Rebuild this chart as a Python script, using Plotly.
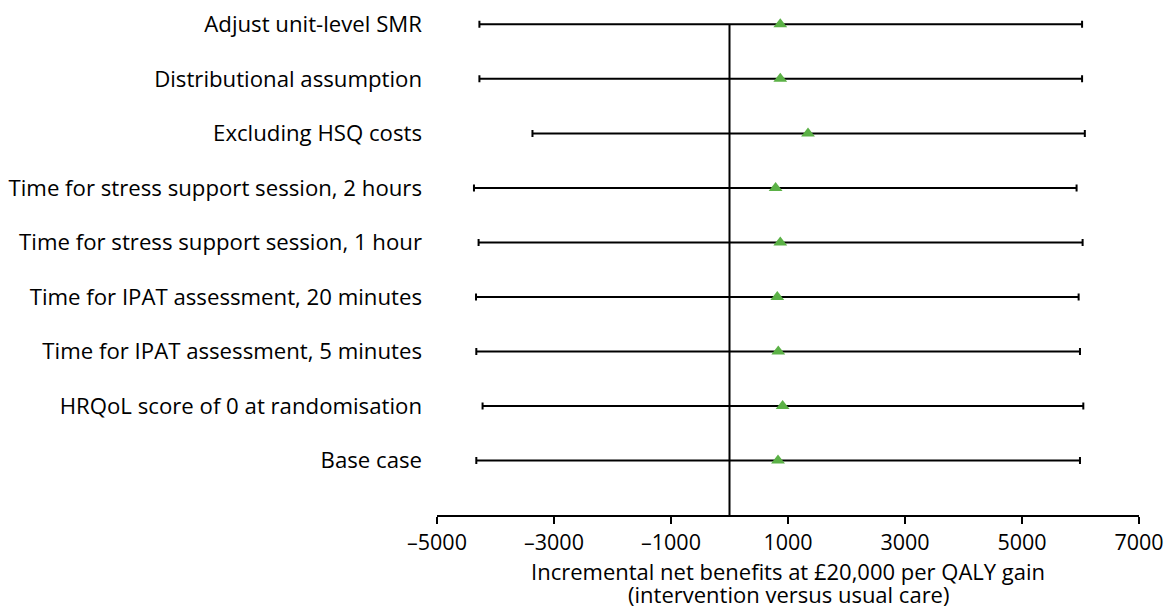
import plotly.graph_objects as go

# Data (top to bottom as shown)
scenarios = [
    "Adjust unit-level SMR",
    "Distributional assumption",
    "Excluding HSQ costs",
    "Time for stress support session, 2 hours",
    "Time for stress support session, 1 hour",
    "Time for IPAT assessment, 20 minutes",
    "Time for IPAT assessment, 5 minutes",
    "HRQoL score of 0 at randomisation",
    "Base case",
]
inb_mean = [868, 868, 1342, 788, 868, 817, 834, 908, 829]
inb_low = [-4275, -4275, -3368, -4368, -4289, -4333, -4328, -4221, -4328]
inb_high = [6027, 6027, 6074, 5933, 6036, 5968, 5991, 6048, 5991]

x_tickvals = [-5000, -3000, -1000, 1000, 3000, 5000, 7000]
x_ticktext = ["–5000", "–3000", "–1000", "1000", "3000", "5000", "7000"]

x_title_lines = ["Incremental net benefits at £20,000 per QALY gain",
                 "(intervention versus usual care)"]

n = len(scenarios)
ypos = [n - 1 - i for i in range(n)]
err_plus = [h - m for h, m in zip(inb_high, inb_mean)]
err_minus = [m - l for m, l in zip(inb_mean, inb_low)]

FONT = "Open Sans"
fig = go.Figure()
fig.add_trace(go.Scatter(
    x=inb_mean, y=ypos, mode="markers",
    marker=dict(symbol="triangle-up", size=12, color="#5BB146"),
    error_x=dict(type="data", array=err_plus, arrayminus=err_minus,
                 color="#000000", thickness=2, width=3.5),
    cliponaxis=False, showlegend=False, hoverinfo="skip",
))

fig.add_shape(type="line", xref="x", yref="y", x0=0, x1=0, y0=-1, y1=n - 1,
              line=dict(color="#000000", width=2), layer="below")

for i, line in enumerate(x_title_lines):
    fig.add_annotation(text=line, xref="paper", yref="paper", x=0.5, y=0,
                       xanchor="center", yanchor="middle", yshift=-56 - 23 * i,
                       showarrow=False, font=dict(family=FONT, size=22, color="#000000"))

fig.update_layout(
    width=1165, height=606,
    margin=dict(l=437, r=26, t=8, b=91),
    plot_bgcolor="white", paper_bgcolor="white",
    font=dict(family=FONT, size=22, color="#000000"),
    xaxis=dict(
        range=[-5000, 7000], tickvals=x_tickvals, ticktext=x_ticktext,
        showline=True, linewidth=2, linecolor="#000000",
        ticks="outside", ticklen=7, tickwidth=2, tickcolor="#000000",
        showgrid=False, zeroline=False, ticklabeloverflow="allow",
        tickfont=dict(family=FONT, size=21.5), automargin=False,
    ),
    yaxis=dict(
        range=[-1, n - 1 + 0.3], tickvals=ypos, ticktext=scenarios,
        showline=False, ticks="", showgrid=False, zeroline=False,
        tickfont=dict(family=FONT, size=22.2), ticklabelstandoff=14,
        automargin=False,
    ),
)

fig.write_html(
    "out.html",
    config={"displayModeBar": False},
    post_script="document.body.style.margin='0';document.body.style.overflow='hidden';"
                "document.documentElement.style.overflow='hidden';",
)
